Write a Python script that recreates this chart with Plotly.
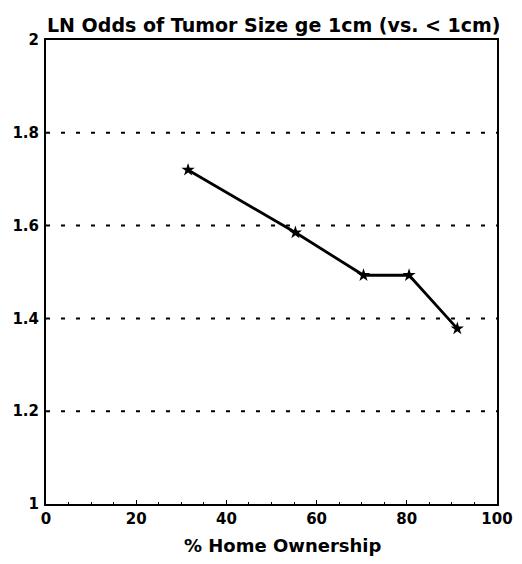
import plotly.graph_objects as go

home_ownership = [31.5, 55.3, 70.4, 80.5, 91.2]
ln_odds = [1.72, 1.585, 1.493, 1.493, 1.378]
x_ticks = [0, 20, 40, 60, 80, 100]
y_ticks = [1, 1.2, 1.4, 1.6, 1.8, 2]
y_tick_text = ["1", "1.2", "1.4", "1.6", "1.8", "2"]

font_family = "DejaVu Sans, Liberation Sans, sans-serif"

fig = go.Figure()
fig.add_trace(go.Scatter(
    x=home_ownership, y=ln_odds, mode="lines+markers",
    line=dict(color="black", width=2.8),
    marker=dict(symbol="star", size=10, color="black"),
    showlegend=False, hoverinfo="skip",
))

# dotted gridlines at interior y ticks
for yv in y_ticks[1:-1]:
    fig.add_shape(type="line", xref="paper", yref="y", x0=0, x1=1, y0=yv, y1=yv,
                  line=dict(color="black", width=2, dash="4px,11px"), layer="below")

# x-axis title (slightly right of centre, as in the reference)
fig.add_annotation(text="<b>% Home Ownership</b>", xref="paper", yref="paper",
                   x=(282 - 46) / 451, y=-(545 - 504) / 464, xanchor="center", yanchor="middle",
                   showarrow=False, font=dict(family=font_family, size=18, color="black"))

fig.update_layout(
    width=522, height=564,
    margin=dict(l=46, r=25, t=40, b=60, autoexpand=False),
    paper_bgcolor="white", plot_bgcolor="white",
    title=dict(text="<b>LN Odds of Tumor Size ge 1cm (vs. &lt; 1cm)</b>",
               x=47 / 522, xanchor="left", y=1 - 25 / 564, yanchor="middle",
               font=dict(family=font_family, size=19, color="black")),
    xaxis=dict(range=[0, 100], tickvals=x_ticks, showgrid=False, zeroline=False,
               automargin=False,
               showline=True, linecolor="black", linewidth=2, mirror=True,
               ticks="inside", ticklen=4, tickcolor="black", tickwidth=1,
               minor=dict(ticks="inside", ticklen=2, dtick=5, tickcolor="black"),
               tickfont=dict(family=font_family, size=15, color="black", weight="bold")),
    yaxis=dict(range=[1, 2], tickvals=y_ticks, ticktext=y_tick_text,
               showgrid=False, zeroline=False, automargin=False,
               showline=True, linecolor="black", linewidth=2, mirror=True,
               ticks="", ticklabelstandoff=2,
               tickfont=dict(family=font_family, size=15, color="black", weight="bold")),
)

fig.write_html("out.html", config={"displayModeBar": False},
               post_script="document.body.style.margin='0';document.body.style.overflow='hidden';")
